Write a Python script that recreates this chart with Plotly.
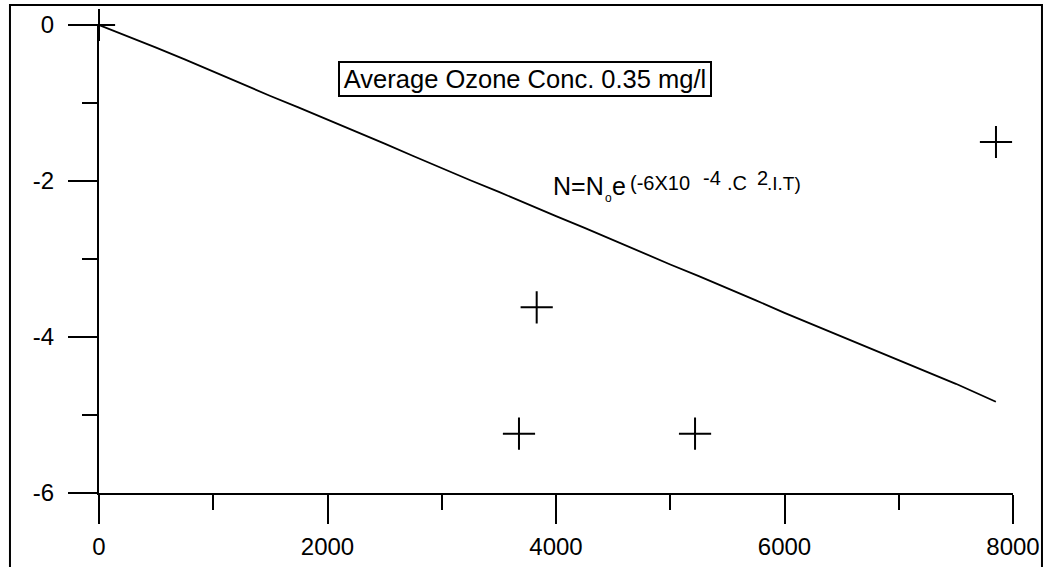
import plotly.graph_objects as go

# ---- data ----
line_x = [0, 250, 500, 750, 1000, 1250, 1500, 1750, 2000, 2250, 2500, 2750, 3000, 3250,
          3500, 3750, 4000, 4250, 4500, 4750, 5000, 5250, 5500, 5750, 6000, 6250, 6500,
          6750, 7000, 7250, 7500, 7850]
line_y = [0, -0.14, -0.29, -0.44, -0.60, -0.75, -0.91, -1.06, -1.21, -1.37, -1.52, -1.68,
          -1.84, -1.99, -2.14, -2.30, -2.45, -2.60, -2.76, -2.92, -3.07, -3.22, -3.37,
          -3.53, -3.69, -3.84, -3.99, -4.14, -4.29, -4.45, -4.60, -4.83]

pts_x = [0, 3676, 3831, 5217, 7851]
pts_y = [0, -5.24, -3.62, -5.24, -1.50]

x_ticks = [0, 2000, 4000, 6000, 8000]
y_ticks = [0, -2, -4, -6]

box_text = "Average Ozone Conc. 0.35 mg/l"

FONT = "Liberation Sans, Arial, sans-serif"

fig = go.Figure()
fig.add_trace(go.Scatter(x=line_x, y=line_y, mode="lines",
                         line=dict(color="black", width=1.8), cliponaxis=False,
                         showlegend=False, hoverinfo="skip"))
fig.add_trace(go.Scatter(x=pts_x, y=pts_y, mode="markers", cliponaxis=False,
                         marker=dict(symbol="cross-thin", size=23, color="black",
                                     line=dict(color="black", width=2)),
                         showlegend=False))

axis_common = dict(showgrid=False, zeroline=False, showline=True, linecolor="black",
                   linewidth=2, ticks="outside", ticklen=29, tickwidth=2, automargin=False,
                   tickcolor="black", tickfont=dict(family=FONT, size=24, color="black"))

fig.update_xaxes(range=[0, 8000], tickvals=x_ticks, ticktext=[str(v) for v in x_ticks],
                 minor=dict(dtick=1000, ticks="outside", ticklen=15, tickwidth=2,
                            tickcolor="black", tick0=0),
                 ticklabelstandoff=2, **axis_common)
fig.update_yaxes(range=[-6, 0], tickvals=y_ticks, ticktext=[str(v) for v in y_ticks],
                 minor=dict(dtick=1, ticks="outside", ticklen=15, tickwidth=2,
                            tickcolor="black", tick0=0),
                 ticklabelstandoff=9, **axis_common)

annos = [
    dict(x=3729, y=-0.692, text=box_text, showarrow=False, font=dict(family=FONT, size=25.5, color="black"),
         bordercolor="black", borderwidth=2, borderpad=1, width=368, height=30,
         xanchor="center", yanchor="middle", bgcolor="white"),
]
# formula segments
segs = [
    ("N=N", 3974, -2.068, 25),
    ("o", 4459, -2.22, 12),
    ("e", 4490, -2.068, 25),
    ("(-6X10", 4648, -2.03, 20),
    ("-4", 5287, -1.96, 20),
    (".C", 5497, -2.03, 20),
    ("2", 5759, -1.96, 20),
    (".I.T)", 5847, -2.03, 19),
]
for t, sx, sy, fs in segs:
    annos.append(dict(x=sx, y=sy, text=t, showarrow=False,
                      font=dict(family=FONT, size=fs, color="black"),
                      xanchor="center" if t == "o" else "left", yanchor="middle",
                      borderpad=0, borderwidth=0))

fig.update_layout(
    width=1046, height=567, autosize=False,
    margin=dict(l=99, r=33, t=25, b=74, pad=0, autoexpand=False),
    plot_bgcolor="white", paper_bgcolor="white",
    annotations=annos,
    shapes=[dict(type="rect", xref="paper", yref="paper", x0=-0.0974, x1=1.0317,
                 y0=-0.2, y1=1.0427, line=dict(color="black", width=2), layer="above")],
)

fig.write_html("out.html", config={"displayModeBar": False, "responsive": False},
               post_script="document.body.style.margin='0';document.body.style.overflow='hidden';")
